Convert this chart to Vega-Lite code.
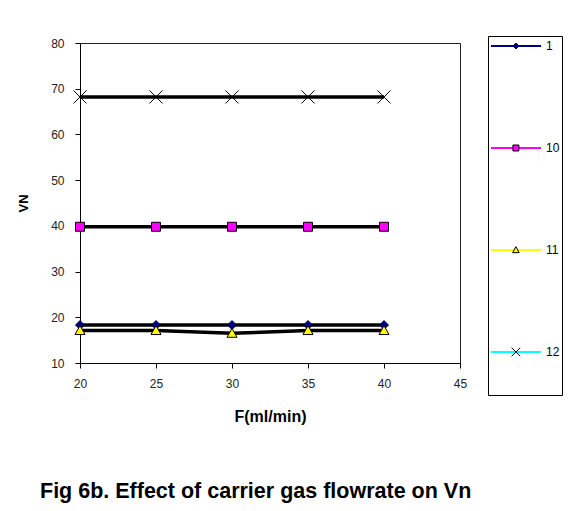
{
  "$schema": "https://vega.github.io/schema/vega-lite/v6.json",
  "width": 380,
  "height": 320,
  "autosize": {"type": "none"},
  "padding": {"left": 80, "top": 43, "right": 118, "bottom": 148},
  "background": "white",
  "config": {
    "view": {"stroke": "#222", "strokeWidth": 1},
    "font": "Liberation Sans",
    "axis": {
      "grid": false,
      "domainColor": "#000",
      "tickColor": "#000",
      "tickSize": 5,
      "labelFont": "Liberation Sans",
      "labelFontSize": 12,
      "labelColor": "#222",
      "titleFont": "Liberation Sans",
      "titleColor": "#000",
      "titleFontWeight": "bold"
    }
  },
  "title": {
    "text": "Fig 6b. Effect of carrier gas flowrate on Vn",
    "orient": "bottom",
    "anchor": "start",
    "frame": "group",
    "dx": -40,
    "offset": 57,
    "font": "Liberation Sans",
    "fontSize": 21.5,
    "fontWeight": "bold",
    "color": "#000"
  },
  "data": {
    "values": [
      {"series": "1", "F": 20, "Vn": 18.3},
      {"series": "1", "F": 25, "Vn": 18.3},
      {"series": "1", "F": 30, "Vn": 18.3},
      {"series": "1", "F": 35, "Vn": 18.3},
      {"series": "1", "F": 40, "Vn": 18.3},
      {"series": "10", "F": 20, "Vn": 39.8},
      {"series": "10", "F": 25, "Vn": 39.8},
      {"series": "10", "F": 30, "Vn": 39.8},
      {"series": "10", "F": 35, "Vn": 39.8},
      {"series": "10", "F": 40, "Vn": 39.8},
      {"series": "11", "F": 20, "Vn": 17.1},
      {"series": "11", "F": 25, "Vn": 17.1},
      {"series": "11", "F": 30, "Vn": 16.5},
      {"series": "11", "F": 35, "Vn": 17.1},
      {"series": "11", "F": 40, "Vn": 17.1},
      {"series": "12", "F": 20, "Vn": 68.2},
      {"series": "12", "F": 25, "Vn": 68.2},
      {"series": "12", "F": 30, "Vn": 68.2},
      {"series": "12", "F": 35, "Vn": 68.2},
      {"series": "12", "F": 40, "Vn": 68.2}
    ]
  },
  "encoding": {
    "x": {
      "field": "F",
      "type": "quantitative",
      "scale": {"domain": [20, 45], "nice": false, "zero": false},
      "axis": {"values": [20, 25, 30, 35, 40, 45], "title": "F(ml/min)", "titleFontSize": 16, "titlePadding": 19, "labelPadding": 10, "labelFlush": false}
    },
    "y": {
      "field": "Vn",
      "type": "quantitative",
      "scale": {"domain": [10, 80], "nice": false, "zero": false},
      "axis": {"values": [10, 20, 30, 40, 50, 60, 70, 80], "title": "VN", "titleFontSize": 13, "titlePadding": 20, "labelPadding": 11, "labelFlush": false}
    }
  },
  "layer": [
    {
      "mark": {"type": "line", "strokeWidth": 2},
      "encoding": {
        "color": {
          "field": "series",
          "type": "nominal",
          "scale": {"domain": ["1", "10", "11", "12"], "range": ["#000080", "#FF00FF", "#FFFF00", "#00FFFF"]},
          "legend": {
            "orient": "none",
            "legendX": 408,
            "legendY": -7,
            "title": "\u00a0",
            "titleOrient": "bottom",
            "titleFontSize": 12,
            "titlePadding": 22,
            "symbolType": "M-1,0H1",
            "symbolSize": 2500,
            "symbolStrokeWidth": 2,
            "clipHeight": 16,
            "rowPadding": 86,
            "padding": 2,
            "strokeColor": "#000",
            "labelFont": "Liberation Sans",
            "labelFontSize": 12,
            "labelColor": "#000",
            "labelOffset": 4
          }
        }
      }
    },
    {
      "mark": {"type": "line", "stroke": "#000", "strokeWidth": 3.5},
      "encoding": {"detail": {"field": "series", "type": "nominal"}}
    },
    {
      "mark": {"type": "point", "size": 2500, "strokeWidth": 1, "opacity": 1},
      "encoding": {
        "shape": {
          "field": "series",
          "type": "nominal",
          "scale": {"range": [
            "M0,-0.18L0.18,0L0,0.18L-0.18,0Z",
            "M-0.18,-0.18H0.18V0.18H-0.18Z",
            "M0,-0.2L0.2,0.16L-0.2,0.16Z",
            "M-0.26,-0.26L0.26,0.26M-0.26,0.26L0.26,-0.26"
          ]},
          "legend": {
            "orient": "none",
            "legendX": 416.4,
            "legendY": -7,
            "title": null,
            "symbolSize": 1100,
            "symbolStrokeWidth": 1,
            "clipHeight": 16,
            "rowPadding": 86,
            "padding": 2,
            "labelExpr": "''",
            "labelFontSize": 12,
            "labelOffset": 4
          }
        },
        "fill": {
          "field": "series",
          "type": "nominal",
          "scale": {"range": ["#000080", "#FF00FF", "#FFFF00", "transparent"]}
        },
        "stroke": {
          "field": "series",
          "type": "nominal",
          "scale": {"range": ["#000040", "#000", "#000", "#000"]}
        }
      }
    }
  ]
}
